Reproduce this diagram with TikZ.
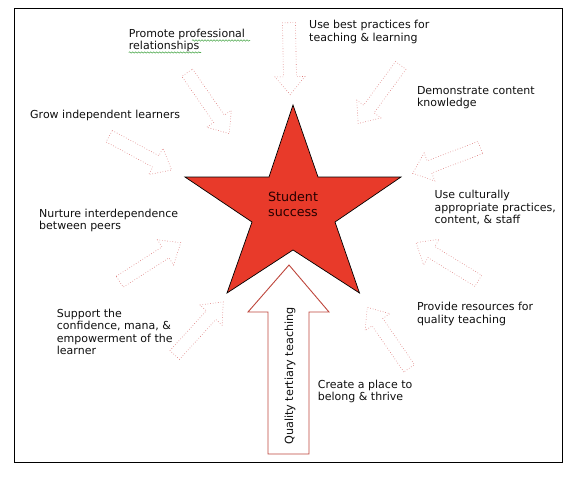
\documentclass[tikz,border=0pt]{standalone}
\usepackage{fontspec}
\setmainfont{DejaVu Sans}
\usetikzlibrary{decorations.pathmorphing}
\definecolor{starred}{RGB}{232,58,42}
\definecolor{dotred}{RGB}{220,120,120}
\definecolor{bigred}{RGB}{190,70,60}
\definecolor{txt}{RGB}{15,15,15}
\definecolor{squig}{RGB}{80,170,80}
\newcommand{\dotarrow}[4]{%
  \draw[dotarr, shift={(#1,#2)}, rotate=#3]
    (0,-6.5) -- ({#4-18},-6.5) -- ({#4-18},-15) -- (#4,0) --
    ({#4-18},15) -- ({#4-18},6.5) -- (0,6.5) -- cycle;}
\begin{document}
\begin{tikzpicture}[x=1pt,y=-1pt,
  dotarr/.style={draw=dotred, dotted, line width=0.6pt, fill=white},
  lbl/.style={font=\fontsize{11}{12.5}\selectfont, align=left, anchor=north west, inner sep=0pt, text=txt},
  squiggle/.style={draw=squig, line width=0.55pt, decorate, decoration={snake, segment length=3pt, amplitude=0.7pt}}]
\useasboundingbox (0,0) rectangle (574,477);
\draw[line width=1pt] (14.6,8.3) rectangle (562.7,462.7);

% star
\draw[fill=starred, draw=black, line width=0.7pt, line join=miter]
  (293,105) -- (318,177) -- (401,177) -- (335,222) -- (359.5,293) --
  (293,250) -- (227,293) -- (252,222) -- (185,177) -- (269,177) -- cycle;
\node[font=\fontsize{12.7}{15}\selectfont, align=center, text=black!85!red, inner sep=0pt] (star) at (293,204.5) {Student\\success};

% big arrow
\draw[draw=bigred, line width=0.9pt, fill=white, line join=miter]
  (268,454) -- (268,312) -- (248,312) -- (289,265) -- (329,312) -- (309,312) -- (309,454) -- cycle;
\node[rotate=90, font=\fontsize{11.2}{13}\selectfont, text=txt, inner sep=0pt] (qtt) at (290,376) {Quality tertiary teaching};

% dotted arrows
\dotarrow{289}{22.7}{-89}{72}
\dotarrow{187.2}{72.7}{-55.4}{74}
\dotarrow{109.2}{136.2}{-28.4}{71}
\dotarrow{400.8}{65.5}{-126.3}{72}
\dotarrow{480.3}{147.5}{-159.1}{72.4}
\dotarrow{119.7}{281.7}{32.6}{72.4}
\dotarrow{174.7}{355}{47.6}{72}
\dotarrow{478.3}{280.8}{148.5}{73}
\dotarrow{409.2}{368.3}{124.5}{74}

% labels
\node[lbl] (promote) at (128.7,28.8) {Promote professional\\relationships};
\node[lbl] (usebest) at (309,20.3) {Use best practices for\\teaching \& learning};
\node[lbl] (demo) at (416.8,85.8) {Demonstrate content\\knowledge};
\node[lbl] (grow) at (30,110.3) {Grow independent learners};
\node[lbl] (cult) at (434.4,190.3) {Use culturally\\appropriate practices,\\content, \& staff};
\node[lbl] (nurt) at (39,208.6) {Nurture interdependence\\between peers};
\node[lbl] (prov) at (416.8,302) {Provide resources for\\quality teaching};
\node[lbl] (supp) at (56.7,308.6) {Support the\\confidence, mana, \&\\empowerment of the\\learner};
\node[lbl] (create) at (317.7,379.6) {Create a place to\\belong \& thrive};

% spell-check underlines
\coordinate (sq1a) at (192,40.5);
\coordinate (sq1b) at (250,40.5);
\coordinate (sq2a) at (128.7,52.5);
\coordinate (sq2b) at (201,52.5);
\draw[squiggle] (sq1a) -- (sq1b);
\draw[squiggle] (sq2a) -- (sq2b);
\end{tikzpicture}
\end{document}
